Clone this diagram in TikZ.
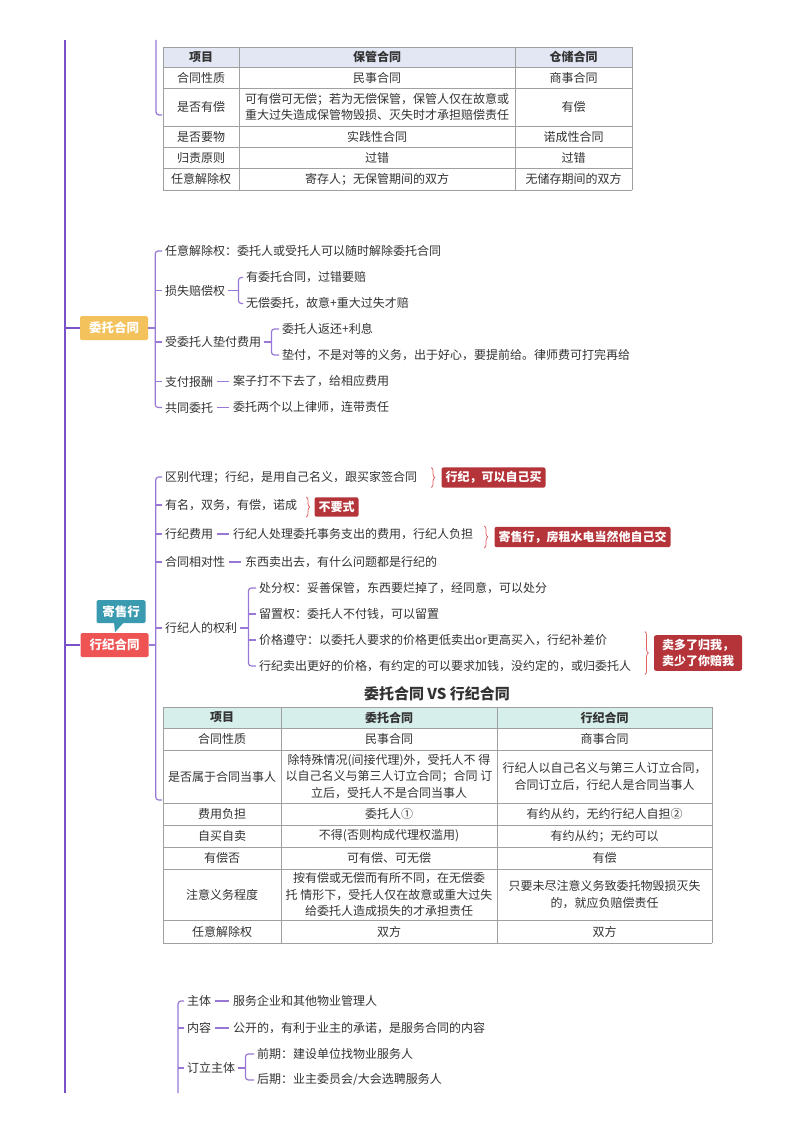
\documentclass[tikz,border=0pt]{standalone}
\usepackage{fontspec}
\setmainfont{Noto Sans CJK SC}
\usetikzlibrary{decorations.pathreplacing}
\definecolor{mline}{RGB}{122,82,199}
\definecolor{bline}{RGB}{152,120,212}
\definecolor{txt}{RGB}{51,51,51}
\definecolor{cgold}{RGB}{243,194,92}
\definecolor{crose}{RGB}{238,84,84}
\definecolor{cteal}{RGB}{58,154,176}
\definecolor{tagred}{RGB}{181,52,58}
\definecolor{brc}{RGB}{224,100,100}
\definecolor{hdA}{RGB}{227,231,244}
\definecolor{hdB}{RGB}{214,239,235}
\definecolor{tgray}{RGB}{160,160,160}

\begin{document}
\begin{tikzpicture}[x=1pt, y=-1pt,
        t/.style={anchor=west, inner sep=3pt, font=\fontsize{12}{14}\selectfont, text=txt},
        br/.style={bline, line width=1.2pt, rounded corners=3pt},
        ml/.style={mline, line width=1.8pt},
        topic/.style={minimum width=68pt, minimum height=24pt, inner sep=0pt, rounded corners=1.5pt,
          text=white, font=\fontsize{12.5}{14}\selectfont\bfseries},
        tag/.style={fill=tagred, text=white, rounded corners=2pt, inner sep=4pt, align=left,
          font=\fontsize{12}{16}\selectfont\bfseries},
        cb/.style={brc, line width=0.8pt, decorate, decoration={brace, amplitude=3.5pt}},
        cell/.style={font=\fontsize{12}{16.5}\selectfont, text=txt, align=center, inner sep=0pt},
        hcell/.style={cell, font=\fontsize{12}{16}\selectfont\bfseries},
        tb/.style={tgray, line width=0.7pt}]

      \fill[white] (0,0) rectangle (800,1132);
      \useasboundingbox (0,0) rectangle (800,1132);

      % main line
      \coordinate (mtop) at (65,40);
      \coordinate (mbot) at (65,1093);
      \draw[ml] (mtop) -- (mbot);

      % table: 保管 vs 仓储
      \coordinate (tt) at (156,40);
      \coordinate (ta) at (162,115);
      \draw[br] (tt) |- (ta);
      \fill[hdA] (163,47) rectangle (632,67);
      \foreach \y in {47,67,88,126,147,168,190}
        \draw[tb] (163,\y) -- (632,\y);
      \foreach \x in {163,239,515,632}
        \draw[tb] (\x,47) -- (\x,190);
      \node[hcell] (pa0) at (201,57) {项目};
      \node[hcell] (pb0) at (377,57) {保管合同};
      \node[hcell] (pc0) at (573.5,57) {仓储合同};
      \foreach \yc/\a/\b/\c [count=\i] in {
          77.5/合同性质/民事合同/商事合同,
          107/是否有偿/{可有偿可无偿；若为无偿保管，保管人仅在故意或\\重大过失造成保管物毁损、灭失时才承担赔偿责任}/有偿,
          136.5/是否要物/实践性合同/诺成性合同,
          157.5/归责原则/过错/过错,
          179/任意解除权/寄存人；无保管期间的双方/无储存期间的双方} {
        \node[cell] (pa\i) at (201,\yc) {\a};
        \node[cell] (pb\i) at (377,\yc) {\b};
        \node[cell] (pc\i) at (573.5,\yc) {\c};
      }

      % 委托合同
      \node[topic, fill=cgold] (wt) at (114,328) {委托合同};
      \draw[ml] (wt.west -| mtop) -- (wt.west);
      \node[t] (w1) at (162,251) {任意解除权：委托人或受托人可以随时解除委托合同};
      \node[t] (w2) at (162,290.5) {损失赔偿权};
      \node[t] (w21) at (243,277.5) {有委托合同，过错要赔};
      \node[t] (w22) at (243,303.5) {无偿委托，故意+重大过失才赔};
      \node[t] (w3) at (162,342) {受委托人垫付费用};
      \node[t] (w31) at (279,329) {委托人返还+利息};
      \node[t] (w32) at (279,355) {垫付，不是对等的义务，出于好心，要提前给。律师费可打完再给};
      \node[t] (w4) at (162,381.5) {支付报酬};
      \node[t] (w41) at (230,381.5) {案子打不下去了，给相应费用};
      \node[t] (w5) at (162,407.5) {共同委托};
      \node[t] (w51) at (230,407.5) {委托两个以上律师，连带责任};
      \draw[br] (wt.east) -- ++(7,0);
      \draw[br] (w1.west) -| ([xshift=7pt]wt.east) |- (w5.west);
      \foreach \n in {w2,w3,w4}
        \draw[br] (\n.west) -- ++(-7,0);
      \draw[br] (w2.east) -- ++(10,0);
      \draw[br] (w21.west) -| ([xshift=10pt]w2.east) |- (w22.west);
      \draw[br] (w3.east) -- ++(7,0);
      \draw[br] (w31.west) -| ([xshift=7pt]w3.east) |- (w32.west);
      \draw[br, shorten <=1pt, shorten >=1pt] (w4.east) -- (w41.west);
      \draw[br, shorten <=1pt, shorten >=1pt] (w5.east) -- (w51.west);

      % 行纪合同
      \node[topic, fill=crose] (hj) at (114.5,645) {行纪合同};
      \node[topic, fill=cteal, minimum width=49pt, minimum height=23pt] (js) at (121,611.5) {寄售行};
      \fill[cteal] ([xshift=-7pt,yshift=1pt]js.south) -- ([xshift=-6pt,yshift=-9pt]js.south)
        -- ([xshift=3pt,yshift=1pt]js.south) -- cycle;
      \draw[ml] (hj.west -| mtop) -- (hj.west);
      \node[t] (x1) at (162,477) {区别代理；行纪，是用自己名义，跟买家签合同};
      \node[t] (x2) at (162,505) {有名，双务，有偿，诺成};
      \node[t] (x3) at (162,534) {行纪费用};
      \node[t] (x31) at (230,534) {行纪人处理委托事务支出的费用，行纪人负担};
      \node[t] (x4) at (162,562) {合同相对性};
      \node[t] (x41) at (242,562) {东西卖出去，有什么问题都是行纪的};
      \node[t] (x5) at (162,628) {行纪人的权利};
      \node[t] (x51) at (256,588) {处分权：妥善保管，东西要烂掉了，经同意，可以处分};
      \node[t] (x52) at (256,614) {留置权：委托人不付钱，可以留置};
      \node[t] (x53) at (256,640) {价格遵守：以委托人要求的价格更低卖出or更高买入，行纪补差价};
      \node[t] (x54) at (256,666) {行纪卖出更好的价格，有约定的可以要求加钱，没约定的，或归委托人};
      \coordinate (tb2) at (162,800);
      \draw[br] (hj.east) -- ++(7,0);
      \draw[br] (x1.west) -| ([xshift=7pt]hj.east) |- (tb2);
      \foreach \n in {x2,x3,x4,x5}
        \draw[br] (\n.west) -- ++(-7,0);
      \draw[br, shorten <=1pt, shorten >=1pt] (x3.east) -- (x31.west);
      \draw[br, shorten <=1pt, shorten >=1pt] (x4.east) -- (x41.west);
      \draw[br] (x5.east) -- ++(8,0);
      \draw[br] (x51.west) -| ([xshift=8pt]x5.east) |- (x54.west);
      \foreach \n in {x52,x53}
        \draw[br] (\n.west) -- ++(-8,0);

      % tags
      \node[tag] (g1) at (493.5,477.5) {行纪，可以自己买};
      \node[tag] (g2) at (336.5,507) {不要式};
      \node[tag] (g3) at (582.5,537) {寄售行，房租水电当然他自己交};
      \node[tag, inner xsep=8pt] (g4) at (698,653) {卖多了归我，\\卖少了你赔我};
      \draw[cb] ([xshift=-10pt,yshift=10pt]g1.west) -- ([xshift=-10pt,yshift=-10pt]g1.west);
      \draw[cb] ([xshift=-8pt,yshift=10pt]g2.west) -- ([xshift=-8pt,yshift=-10pt]g2.west);
      \draw[cb] ([xshift=-10pt,yshift=11pt]g3.west) -- ([xshift=-10pt,yshift=-11pt]g3.west);
      \draw[cb] ([xshift=-9pt,yshift=21.5pt]g4.west) -- ([xshift=-9pt,yshift=-21.5pt]g4.west);

      % table: 委托 vs 行纪
      \node[font=\fontsize{15}{18}\selectfont\bfseries, text=txt] (cmp) at (437,694) {委托合同 VS 行纪合同};
      \fill[hdB] (163,707) rectangle (712,728);
      \foreach \y in {707,728,750,803,825,847,869,920,943}
        \draw[tb] (163,\y) -- (712,\y);
      \foreach \x in {163,281,497,712}
        \draw[tb] (\x,707) -- (\x,943);
      \node[hcell] (qa0) at (222,717.5) {项目};
      \node[hcell] (qb0) at (389,717.5) {委托合同};
      \node[hcell] (qc0) at (604.5,717.5) {行纪合同};
      \foreach \yc/\a/\b/\c [count=\i] in {
          739/合同性质/民事合同/商事合同,
          776.5/是否属于合同当事人/{除特殊情况(间接代理)外，受托人不 得\\以自己名义与第三人订立合同；合同 订\\立后，受托人不是合同当事人}/{行纪人以自己名义与第三人订立合同，\\合同订立后，行纪人是合同当事人},
          814/费用负担/委托人①/有约从约，无约行纪人自担②,
          836/自买自卖/不得(否则构成代理权滥用)/有约从约；无约可以,
          858/有偿否/可有偿、可无偿/有偿,
          894.5/注意义务程度/{按有偿或无偿而有所不同，在无偿委\\托 情形下，受托人仅在故意或重大过失\\给委托人造成损失的才承担责任}/{只要未尽注意义务致委托物毁损灭失\\的，就应负赔偿责任},
          931.5/任意解除权/双方/双方} {
        \node[cell] (qa\i) at (222,\yc) {\a};
        \node[cell] (qb\i) at (389,\yc) {\b};
        \node[cell] (qc\i) at (604.5,\yc) {\c};
      }

      % 物业服务
      \node[t] (y1) at (184,1001) {主体};
      \node[t] (y11) at (230,1001) {服务企业和其他物业管理人};
      \node[t] (y2) at (184,1028) {内容};
      \node[t] (y21) at (230,1028) {公开的，有利于业主的承诺，是服务合同的内容};
      \node[t] (y3) at (184,1068) {订立主体};
      \node[t] (y31) at (254,1054) {前期：建设单位找物业服务人};
      \node[t] (y32) at (254,1080) {后期：业主委员会/大会选聘服务人};
      \coordinate (yb) at (178,1093);
      \draw[br] (y1.west) -| (yb);
      \foreach \n in {y2,y3}
        \draw[br] (\n.west) -- ++(-6,0);
      \draw[br, shorten <=1pt, shorten >=1pt] (y1.east) -- (y11.west);
      \draw[br, shorten <=1pt, shorten >=1pt] (y2.east) -- (y21.west);
      \draw[br] (y3.east) -- ++(7,0);
      \draw[br] (y31.west) -| ([xshift=7pt]y3.east) |- (y32.west);
    \end{tikzpicture}
\end{document}
